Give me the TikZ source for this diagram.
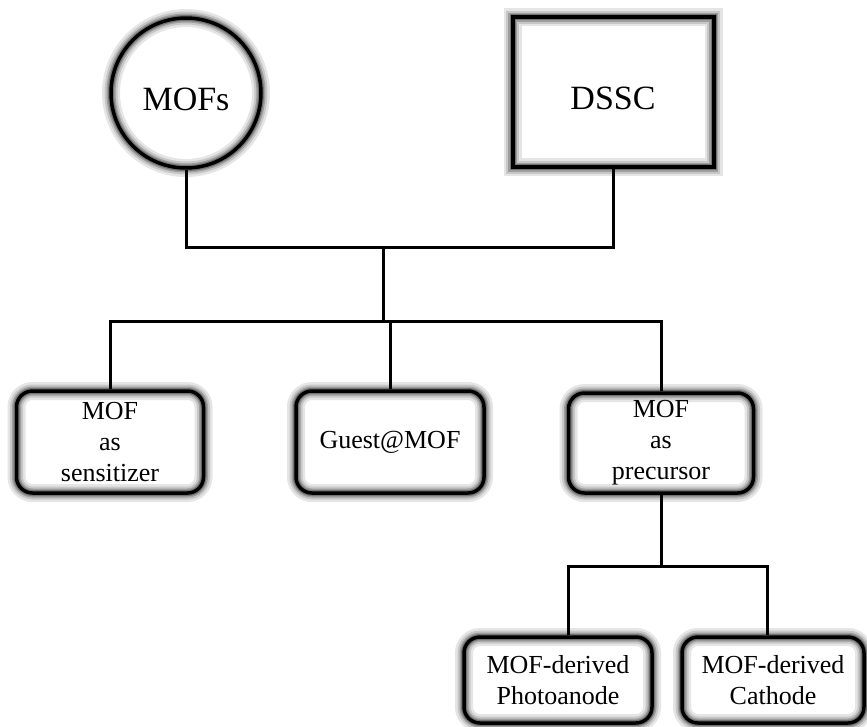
\documentclass[tikz,border=0pt]{standalone}
\usepackage{fontspec}
\setmainfont{Liberation Serif}
\tikzstyle{glow}=[preaction={draw=black!10,line width=18pt},preaction={draw=black!22,line width=13pt},preaction={draw=black!38,line width=9pt},preaction={draw=black!55,line width=6pt}]
\tikzstyle{item}=[draw, glow, line width=3.5pt, rounded corners=16pt, inner sep=0pt, align=center, font=\fontsize{26}{31}\selectfont]
\tikzstyle{big}=[draw, glow, inner sep=0pt, text height=35pt, text depth=0pt, font=\fontsize{34}{40}\selectfont]
\tikzstyle{link}=[line width=3pt]
\begin{document}
\begin{tikzpicture}[x=1pt,y=-1pt]
            \useasboundingbox (0,0) rectangle (867,726);
            \node[big, circle, line width=3.5pt, minimum size=150pt] (mofs) at (186,93){MOFs};
            \node[big, line width=4pt, minimum width=201pt, minimum height=150pt] (dssc) at (613,92){DSSC};
            \node[item, minimum width=187pt, minimum height=102pt] (sens) at (110,442){MOF\\as\\sensitizer};
            \node[item, minimum width=188pt, minimum height=102pt] (guest) at (390,442){Guest@MOF};
            \node[item, minimum width=185pt, minimum height=100pt] (prec) at (661,443){MOF\\as\\precursor};
            \node[item, minimum width=188pt, minimum height=86pt] (photo) at (558,680){MOF-derived\\Photoanode};
            \node[item, minimum width=182pt, minimum height=86pt] (cath) at (773,680){MOF-derived\\Cathode};
            \coordinate (top) at (383,247);
            \coordinate (mid) at (383,321);
            \coordinate (low) at (661,566);
            \draw[link] (mofs.south) |- (top) -| (dssc.south);
            \draw[link] (top) -- (mid);
            \draw[link] (sens.north) |- (mid) -| (prec.north);
            \draw[link] (guest.north) -- (guest.north |- mid);
            \draw[link] (prec.south) -- (low);
            \draw[link] ([xshift=10pt]photo.north) |- (low) -| ([xshift=-6pt]cath.north);
        \end{tikzpicture}
\end{document}
